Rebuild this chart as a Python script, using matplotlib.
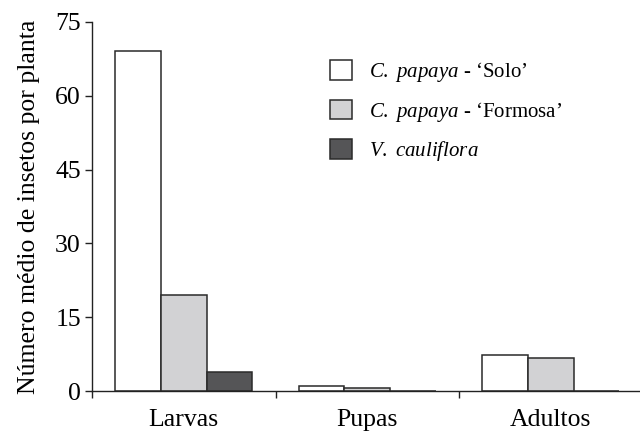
import matplotlib
matplotlib.use('Agg')
import matplotlib.pyplot as plt
import numpy as np

categories = ['Larvas', 'Pupas', 'Adultos']
series_names = [r'$C.$ $papaya$ - ‘Solo’',
                r'$C.$ $papaya$ - ‘Formosa’',
                r'$V.$ $cauliflora$']
solo = [69.2, 1.1, 7.4]
formosa = [19.6, 0.55, 6.8]
cauliflora = [3.9, 0.0, 0.0]
yticks = [0, 15, 30, 45, 60, 75]


def main():
    plt.rcParams['font.family'] = 'Liberation Serif'
    plt.rcParams['mathtext.fontset'] = 'custom'
    plt.rcParams['mathtext.it'] = 'Liberation Serif:italic'
    plt.rcParams['mathtext.rm'] = 'Liberation Serif'

    fig = plt.figure(figsize=(6.4, 4.33), dpi=100)
    ax = fig.add_axes([92 / 640, 1 - 391 / 433, 1 - 92 / 640, 369 / 433])

    x = np.arange(len(categories))
    w = 0.248
    colors = ['white', '#d2d2d4', '#555557']
    for i, (vals, name) in enumerate(zip([solo, formosa, cauliflora], series_names)):
        ax.bar(x + (i - 1) * w, vals, w, color=colors[i], edgecolor='#2a2a2a',
               linewidth=1.1, label=name)

    ax.set_xlim(-0.5, -0.5 + 548 / 183.5)
    ax.set_ylim(0, 75)
    ax.set_yticks(yticks)
    ax.set_yticklabels([str(v) for v in yticks], fontsize=18.5)
    ax.set_xticks([-0.5, 0.5, 1.5])
    ax.set_xticklabels([])
    ax.set_xticks(x, minor=True)
    ax.set_xticklabels(categories, minor=True, fontsize=18.5)
    ax.tick_params(axis='x', which='minor', length=0, pad=13)
    ax.tick_params(axis='x', which='major', length=5, width=1, color='#222222')
    ax.tick_params(axis='y', length=5, width=1, pad=3, color='#222222')
    for s in ['top', 'right']:
        ax.spines[s].set_visible(False)
    for s in ['left', 'bottom']:
        ax.spines[s].set_linewidth(1)
        ax.spines[s].set_color('#222222')

    ax.set_ylabel('Número médio de insetos por planta', fontsize=18.5)
    ax.yaxis.set_label_coords(-0.095, 0.5)

    ax.legend(loc='upper left', bbox_to_anchor=(330 / 640, 1 - 60 / 433),
              bbox_transform=fig.transFigure, frameon=False, fontsize=15,
              handlelength=1.06, handleheight=1.06, labelspacing=0.75,
              handletextpad=0.8, borderpad=0, borderaxespad=0)

    fig.savefig('out.png', dpi=100)


if __name__ == '__main__':
    main()
